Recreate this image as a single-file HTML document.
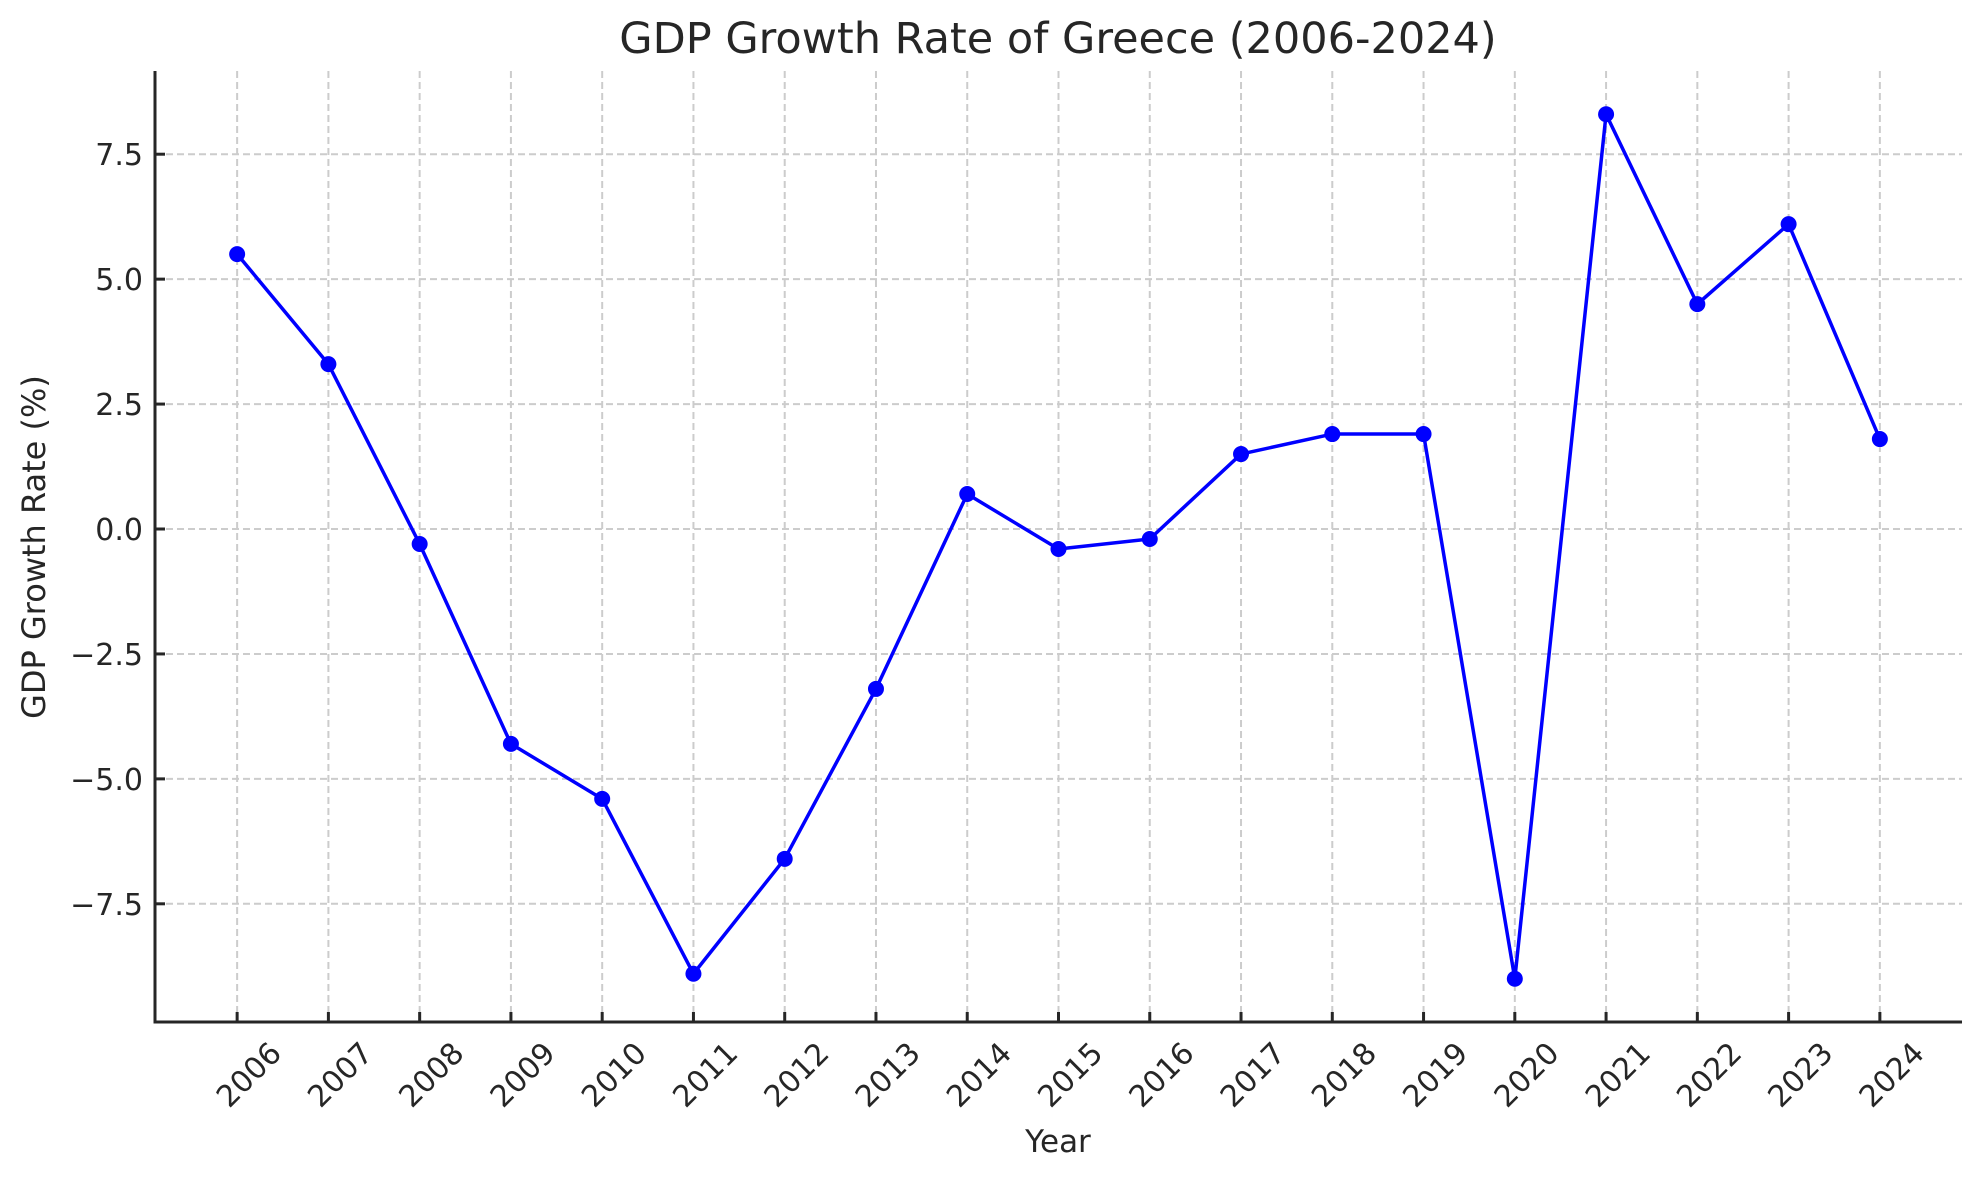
<!DOCTYPE html>
<html><head><meta charset="utf-8"><style>
html,body{margin:0;padding:0;background:#fff;}
svg{display:block;font-family:"DejaVu Sans","Liberation Sans",sans-serif;}
</style></head><body>
<svg id="chart" width="1979" height="1180" viewBox="0 0 1979 1180" xmlns="http://www.w3.org/2000/svg">
<rect width="1979" height="1180" fill="#fff"/>
<text x="1058" y="53" text-anchor="middle" font-size="43" fill="#262626">GDP Growth Rate of Greece (2006-2024)</text>
<text transform="translate(45,547) rotate(-90)" text-anchor="middle" font-size="32" fill="#262626">GDP Growth Rate (%)</text>
<text x="1058" y="1152" text-anchor="middle" font-size="31" fill="#262626">Year</text>
<g id="grid"></g>
<g id="series"></g>
<g id="axes"></g>
</svg>
<script>
const years = [2006,2007,2008,2009,2010,2011,2012,2013,2014,2015,2016,2017,2018,2019,2020,2021,2022,2023,2024];
const growth = [5.5,3.3,-0.3,-4.3,-5.4,-8.9,-6.6,-3.2,0.7,-0.4,-0.2,1.5,1.9,1.9,-9.0,8.3,4.5,6.1,1.8];
const yTicks = [-7.5,-5.0,-2.5,0.0,2.5,5.0,7.5];
const yTickLabels = ["\u22127.5","\u22125.0","\u22122.5","0.0","2.5","5.0","7.5"];

const NS = "http://www.w3.org/2000/svg";
const L = 155, R = 1962, T = 71, B = 1022;
const n = years.length;
const xMin = -0.9, xMax = n - 1 + 0.9;
const dmin = Math.min(...growth), dmax = Math.max(...growth);
const pad = (dmax - dmin) * 0.05;
const yMin = dmin - pad, yMax = dmax + pad;
function xs(i){ return L + (i - xMin) / (xMax - xMin) * (R - L); }
function ys(v){ return B - (v - yMin) / (yMax - yMin) * (B - T); }
function mk(tag, attrs, parent){
  const e = document.createElementNS(NS, tag);
  for (const k in attrs) e.setAttribute(k, attrs[k]);
  parent.appendChild(e); return e;
}
const grid = document.getElementById('grid');
const series = document.getElementById('series');
const axes = document.getElementById('axes');

years.forEach((yr, i) => {
  const x = xs(i);
  const g = mk('line', {x1:x, x2:x, y1:T, y2:B, stroke:'#cccccc', 'stroke-width':2, 'stroke-dasharray':'7,4'}, grid);
  
  
  const t = mk('line', {x1:x, x2:x, y1:B, y2:B-10, stroke:'#262626', 'stroke-width':3}, axes);
  
  
  const lbl = mk('text', {transform:'translate(' + (x+46) + ',1055) rotate(-45)', 'text-anchor':'end', 'font-size':30, fill:'#262626'}, axes);
  lbl.textContent = yr;
  
  
});
yTicks.forEach((v, i) => {
  const y = ys(v);
  const g = mk('line', {x1:L, x2:R, y1:y, y2:y, stroke:'#cccccc', 'stroke-width':2, 'stroke-dasharray':'7,4'}, grid);
  
  
  const t = mk('line', {x1:L, x2:L+10, y1:y, y2:y, stroke:'#262626', 'stroke-width':3}, axes);
  
  
  const lbl = mk('text', {x:143, y:y+11, 'text-anchor':'end', 'font-size':30, fill:'#262626'}, axes);
  lbl.textContent = yTickLabels[i];
  
  
});
const sp1 = mk('line', {x1:L, x2:L, y1:T, y2:B+1.5, stroke:'#262626', 'stroke-width':3}, axes);


const sp2 = mk('line', {x1:L-1.5, x2:R, y1:B, y2:B, stroke:'#262626', 'stroke-width':3}, axes);



const pts = growth.map((v, i) => xs(i) + ',' + ys(v)).join(' ');
const line = mk('polyline', {points:pts, fill:'none', stroke:'#0000ff', 'stroke-width':3.5, 'stroke-linejoin':'round'}, series);


growth.forEach((v, i) => {
  const c = mk('circle', {cx:xs(i), cy:ys(v), r:8, fill:'#0000ff'}, series);
  
  
});
</script>
</body></html>
